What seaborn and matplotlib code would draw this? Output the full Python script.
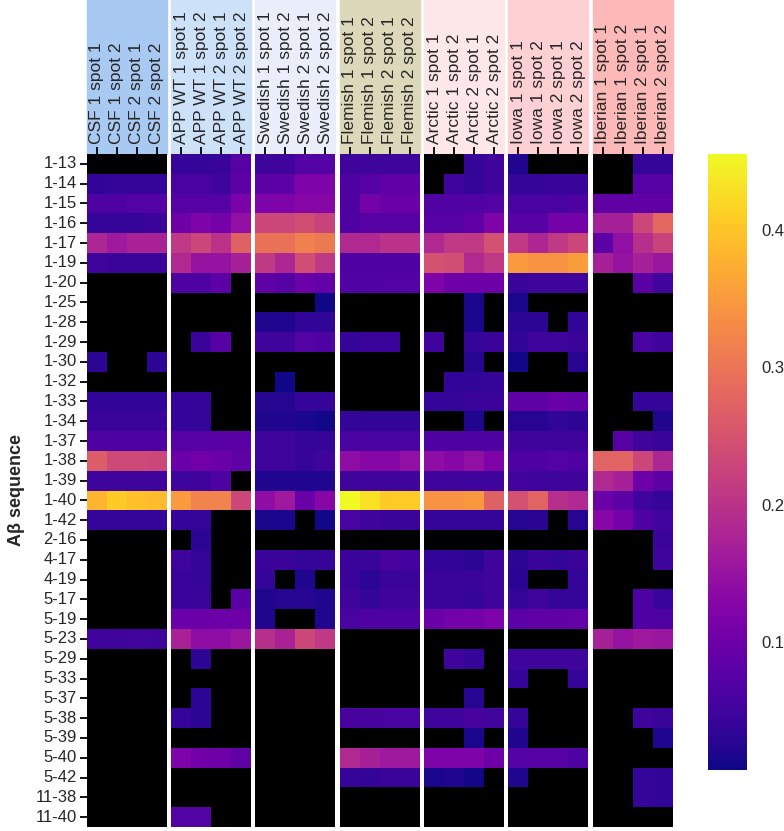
import matplotlib
matplotlib.use('Agg')
import matplotlib.pyplot as plt
from matplotlib.patches import Rectangle
import numpy as np
import pandas as pd
import seaborn as sns

peptides = ['1-13', '1-14', '1-15', '1-16', '1-17', '1-19', '1-20', '1-25', '1-28',
            '1-29', '1-30', '1-32', '1-33', '1-34', '1-37', '1-38', '1-39', '1-40',
            '1-42', '2-16', '4-17', '4-19', '5-17', '5-19', '5-23', '5-29', '5-33',
            '5-37', '5-38', '5-39', '5-40', '5-42', '11-38', '11-40']
groups = ['CSF', 'APP WT', 'Swedish', 'Flemish', 'Arctic', 'Iowa', 'Iberian']
spots = ['1 spot 1', '1 spot 2', '2 spot 1', '2 spot 2']
header_colors = ['#a7c9f2', '#cde1f9', '#e9eefa', '#dcd8b9', '#fde7e8', '#fdd1d3', '#fdb8b8']

# relative abundance per peptide (rows) and sample (4 columns per group), 0 = not detected
csf = [[0, 0, 0, 0], [.035, .04, .04, .04], [.065, .065, .07, .07], [.04, .04, .04, .045],
       [.18, .16, .175, .175], [.05, .045, .045, .045], [0, 0, 0, 0], [0, 0, 0, 0],
       [0, 0, 0, 0], [0, 0, 0, 0], [.03, 0, 0, .03], [0, 0, 0, 0],
       [.035, .035, .035, .035], [.045, .045, .045, .045], [.065, .065, .065, .065],
       [.265, .235, .235, .23], [.05, .05, .05, .05], [.38, .405, .395, .39],
       [.04, .04, .04, .04], [0, 0, 0, 0], [0, 0, 0, 0], [0, 0, 0, 0], [0, 0, 0, 0],
       [0, 0, 0, 0], [.05, .05, .052, .05], [0, 0, 0, 0], [0, 0, 0, 0], [0, 0, 0, 0],
       [0, 0, 0, 0], [0, 0, 0, 0], [0, 0, 0, 0], [0, 0, 0, 0], [0, 0, 0, 0], [0, 0, 0, 0]]

app_wt = [[.04, .04, .045, .075], [.06, .06, .05, .08], [.075, .075, .075, .115],
          [.1, .12, .11, .145], [.21, .23, .2, .27], [.185, .15, .15, .17],
          [.065, .065, .08, 0], [0, 0, 0, 0], [0, 0, 0, 0], [0, .045, .075, 0],
          [0, 0, 0, 0], [0, 0, 0, 0], [.04, .04, 0, 0], [.04, .04, 0, 0],
          [.075, .075, .078, .078], [.095, .105, .095, .085], [.05, .05, .065, 0],
          [.35, .32, .32, .23], [.04, .04, 0, 0], [0, .03, 0, 0], [.05, .04, 0, 0],
          [.045, .04, 0, 0], [.045, .045, 0, .078], [.095, .095, .1, .1],
          [.175, .14, .14, .155], [0, .03, 0, 0], [0, 0, 0, 0], [0, .03, 0, 0],
          [.04, .03, 0, 0], [0, 0, 0, 0], [.12, .105, .1, .085], [0, 0, 0, 0],
          [0, 0, 0, 0], [.07, .07, 0, 0]]

swedish = [[.05, .05, .07, .07], [.08, .08, .12, .12], [.12, .12, .13, .13],
           [.23, .23, .24, .225], [.295, .295, .315, .305], [.21, .18, .24, .21],
           [.085, .075, .095, .09], [0, 0, 0, .01], [.02, .02, .035, .035],
           [.05, .05, .07, .065], [0, 0, 0, 0], [0, .01, 0, 0], [.025, .025, .04, .04],
           [.02, .02, .018, .012], [.05, .05, .04, .04], [.05, .05, .04, .05],
           [.02, .02, .02, .02], [.14, .16, .095, .13], [.015, .015, 0, .012],
           [0, 0, 0, 0], [.045, .045, .04, .04], [.04, 0, .02, 0],
           [.02, .025, .025, .02], [.02, 0, 0, .02], [.195, .175, .23, .21],
           [0, 0, 0, 0], [0, 0, 0, 0], [0, 0, 0, 0], [0, 0, 0, 0], [0, 0, 0, 0],
           [0, 0, 0, 0], [0, 0, 0, 0], [0, 0, 0, 0], [0, 0, 0, 0]]

flemish = [[.05, .05, .05, .05], [.065, .075, .085, .085], [.065, .11, .095, .095],
           [.065, .075, .075, .075], [.185, .185, .2, .2], [.065, .065, .065, .065],
           [.068, .068, .07, .07], [0, 0, 0, 0], [0, 0, 0, 0], [.04, .045, .045, 0],
           [0, 0, 0, 0], [0, 0, 0, 0], [0, 0, 0, 0], [.04, .035, .035, .035],
           [.06, .06, .06, .06], [.14, .13, .13, .145], [.05, .05, .05, .05],
           [.455, .43, .405, .405], [.06, .05, .045, .045], [0, 0, 0, 0],
           [.045, .045, .058, .055], [.045, .03, .045, .045], [.05, .04, .05, .05],
           [.06, .065, .065, .065], [0, 0, 0, 0], [0, 0, 0, 0], [0, 0, 0, 0],
           [0, 0, 0, 0], [.058, .058, .06, .06], [0, 0, 0, 0], [.185, .17, .16, .16],
           [.04, .038, .045, .045], [0, 0, 0, 0], [0, 0, 0, 0]]

arctic = [[0, 0, .04, .05], [0, .05, .04, .05], [.068, .068, .068, .07],
          [.075, .075, .085, .12], [.185, .21, .21, .245], [.245, .24, .185, .21],
          [.12, .1, .1, .1], [0, 0, .015, 0], [0, 0, .015, 0], [.05, 0, .04, .045],
          [0, 0, .025, 0], [0, .035, .035, .04], [.04, .04, .045, .045], [0, 0, .02, 0],
          [.065, .065, .065, .065], [.14, .13, .145, .12], [.05, .05, .05, .05],
          [.34, .34, .345, .27], [.04, .04, .04, .04], [0, 0, 0, 0],
          [.035, .035, .03, .05], [.045, .045, .045, .05], [.045, .045, .04, .05],
          [.095, .11, .11, .12], [0, 0, 0, 0], [0, .05, .04, 0], [0, 0, 0, 0],
          [0, 0, .025, 0], [.05, .05, .058, .052], [0, 0, .015, 0], [.12, .12, .12, .1],
          [.015, .02, .012, 0], [0, 0, 0, 0], [0, 0, 0, 0]]

iowa = [[.02, 0, 0, 0], [.04, .04, .042, .042], [.06, .06, .06, .065],
        [.075, .075, .11, .11], [.21, .18, .21, .23], [.35, .34, .34, .355],
        [.045, .05, .05, .048], [.015, 0, 0, 0], [.03, .03, 0, .035],
        [.035, .048, .048, .045], [.012, 0, 0, .025], [0, 0, 0, 0],
        [.085, .085, .095, .09], [.025, .025, .035, .03], [.05, .05, .05, .05],
        [.065, .065, .07, .065], [.052, .05, .05, .05], [.245, .275, .195, .185],
        [.025, .028, 0, .025], [0, 0, 0, 0], [.03, .045, .04, .045], [.028, 0, 0, .04],
        [.04, .05, .04, .04], [.08, .085, .085, .09], [0, 0, 0, 0], [.05, .05, .05, .05],
        [.04, 0, 0, .04], [0, 0, 0, 0], [.04, 0, 0, 0], [.02, 0, 0, 0],
        [.07, .075, .075, .065], [.02, 0, 0, 0], [0, 0, 0, 0], [0, 0, 0, 0]]

iberian = [[0, 0, .04, .04], [0, 0, .075, .075], [.085, .085, .085, .085],
           [.17, .17, .23, .28], [.08, .145, .195, .225], [.17, .15, .17, .155],
           [0, 0, .078, .052], [0, 0, 0, 0], [0, 0, 0, 0], [0, 0, .06, .05],
           [0, 0, 0, 0], [0, 0, 0, 0], [0, 0, .04, .04], [0, 0, 0, .02],
           [0, .075, .05, .042], [.275, .275, .23, .18], [.185, .17, .1, .08],
           [.095, .08, .05, .04], [.13, .11, .065, .052], [0, 0, 0, .045],
           [0, 0, 0, .05], [0, 0, 0, 0], [0, 0, .065, .042], [0, 0, .065, .065],
           [.17, .15, .16, .155], [0, 0, 0, 0], [0, 0, 0, 0], [0, 0, 0, 0],
           [0, 0, .048, .045], [0, 0, 0, .02], [0, 0, 0, 0], [0, 0, .04, .035],
           [0, 0, .04, .035], [0, 0, 0, 0]]

data = [csf, app_wt, swedish, flemish, arctic, iowa, iberian]
vmin, vmax = 0.007, 0.455

sns.set_theme(style='white')
plt.rcParams['font.family'] = ['Liberation Sans', 'DejaVu Sans']

W, H = 784, 831
fig = plt.figure(figsize=(W / 100, H / 100), dpi=100)
top, bottom = 154, 827
x0, gw, pitch = 86.7, 80, 84.33

axes = []
for i, (name, vals) in enumerate(zip(groups, data)):
    df = pd.DataFrame(vals, index=peptides, columns=[name + ' ' + s for s in spots])
    left = x0 + i * pitch
    ax = fig.add_axes([left / W, 1 - bottom / H, gw / W, (bottom - top) / H])
    sns.heatmap(df, mask=(df == 0), cmap='plasma', vmin=vmin, vmax=vmax,
                cbar=False, ax=ax, yticklabels=(i == 0))
    ax.set_facecolor('black')
    ax.xaxis.tick_top()
    ax.tick_params(axis='x', top=True, bottom=False, labeltop=True, labelbottom=False,
                   rotation=90, length=5, width=1.3, color='black', labelsize=12.5, pad=2)
    if i == 0:
        ax.tick_params(axis='y', left=True, length=5, width=1.3, color='black',
                       labelsize=12, rotation=0, pad=2)
    else:
        ax.tick_params(axis='y', left=False)
    ax.set_xlabel('')
    ax.set_ylabel('')
    # coloured header block behind the sample labels
    fig.add_artist(Rectangle((left / W, 1 - top / H), gw / W, top / H,
                             transform=fig.transFigure, color=header_colors[i], zorder=-1))
    axes.append(ax)

fig.text(17 / W, 1 - 490 / H, 'Aβ sequence', rotation=90, fontweight='bold',
         fontsize=13, ha='center', va='center')

cax = fig.add_axes([708 / W, 1 - 770 / H, 39 / W, 616 / H])
cb = fig.colorbar(axes[0].collections[0], cax=cax)
cb.set_ticks([0.1, 0.2, 0.3, 0.4])
cb.outline.set_visible(False)
cax.tick_params(length=0, labelsize=12, pad=10)

fig.savefig('out.png', dpi=100)
